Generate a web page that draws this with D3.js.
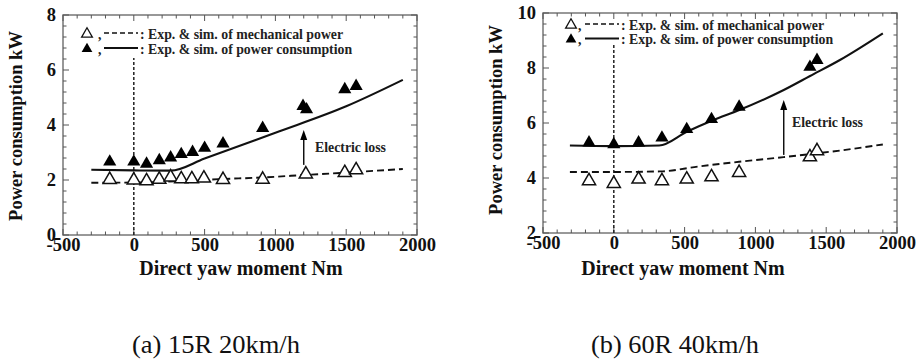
<!DOCTYPE html>
<html>
<head>
<meta charset="utf-8">
<script src="https://cdn.jsdelivr.net/npm/d3@7"></script>
<style>
  body { margin: 0; background: #fff; }
  svg text { font-family: "Liberation Serif", "Times New Roman", serif; }
</style>
</head>
<body>
<div id="chart"></div>
<script>
// tick values
var xTicks = [-500, 0, 500, 1000, 1500, 2000];
var yTicksA = [0, 2, 4, 6, 8];
var yTicksB = [2, 4, 6, 8, 10];

// (a) 15R 20km/h
var expMomentA = [-170, 0, 90, 180, 260, 335, 415, 500, 630, 910, 1195, 1220, 1490, 1570];
var expPowerA = [2.70, 2.70, 2.62, 2.75, 2.85, 2.97, 3.05, 3.20, 3.36, 3.92, 4.72, 4.60, 5.33, 5.45];
var expMechMomentA = [-170, 0, 90, 180, 260, 335, 410, 495, 630, 910, 1215, 1490, 1570];
var expMechA = [2.05, 2.03, 2.00, 2.06, 2.14, 2.07, 2.07, 2.10, 2.05, 2.06, 2.25, 2.30, 2.40];
var simMomentA = [-300, 0, 260, 500, 1000, 1500, 1900];
var simPowerA = [2.37, 2.35, 2.34, 2.78, 3.72, 4.68, 5.64];
var simMechMomentA = [-300, 0, 300, 600, 900, 1200, 1500, 1900];
var simMechA = [1.90, 1.91, 1.95, 2.03, 2.09, 2.18, 2.27, 2.40];

// (b) 60R 40km/h
var expMomentB = [-175, 0, 175, 340, 515, 690, 885, 1385, 1435];
var expPowerB = [5.32, 5.26, 5.32, 5.50, 5.81, 6.17, 6.62, 8.07, 8.32];
var expMechB = [3.93, 3.83, 3.99, 3.93, 3.99, 4.07, 4.23, 4.80, 5.02];
var simMomentB = [-310, 0, 320, 515, 700, 886, 1200, 1386, 1600, 1900];
var simPowerB = [5.18, 5.16, 5.18, 5.68, 6.10, 6.47, 7.20, 7.71, 8.30, 9.26];
var simMechMomentB = [-310, 0, 330, 600, 886, 1200, 1386, 1600, 1900];
var simMechB = [4.22, 4.22, 4.24, 4.42, 4.59, 4.76, 4.87, 5.00, 5.22];

var svg = d3.select("#chart")
  .append("svg")
  .attr("width", 921)
  .attr("height", 362);

var zip = (xs, ys) => xs.map((x, i) => ({x: x, y: ys[i]}));
var plain = d => (d < 0 ? "-" : "") + Math.abs(d);

function drawPanel(p) {
  var x = d3.scaleLinear().domain([-500, 2000]).range([p.left, p.right]);
  var y = d3.scaleLinear().domain(p.yDomain).range([p.bottom, p.top]);
  var g = svg.append("g");

  // frame
  g.append("rect")
    .attr("x", p.left).attr("y", p.top)
    .attr("width", p.right - p.left).attr("height", p.bottom - p.top)
    .attr("fill", "none").attr("stroke", "#777").attr("stroke-width", 1.5);

  // inward ticks on all four sides
  var minorX = d3.range(-500, 2001, 100);
  var minorY = d3.range(p.yDomain[0], p.yDomain[1] + 0.001, 0.4);
  minorX.forEach(function(v) {
    var len = (v % 500 === 0) ? 6 : 3.5;
    g.append("line").attr("x1", x(v)).attr("x2", x(v))
      .attr("y1", p.bottom).attr("y2", p.bottom - len).attr("stroke", "#555");
    g.append("line").attr("x1", x(v)).attr("x2", x(v))
      .attr("y1", p.top).attr("y2", p.top + len).attr("stroke", "#555");
  });
  minorY.forEach(function(v) {
    var major = Math.abs(v / 2 - Math.round(v / 2)) < 0.01;
    var len = major ? 6 : 3.5;
    g.append("line").attr("y1", y(v)).attr("y2", y(v))
      .attr("x1", p.left).attr("x2", p.left + len).attr("stroke", "#555");
    g.append("line").attr("y1", y(v)).attr("y2", y(v))
      .attr("x1", p.right).attr("x2", p.right - len).attr("stroke", "#555");
  });

  // tick labels through d3 axes, domain and tick lines hidden
  var xAxis = g.append("g")
    .attr("transform", `translate(0, ${p.bottom})`)
    .call(d3.axisBottom(x).tickValues(xTicks).tickFormat(plain).tickSize(0).tickPadding(3));
  var yAxis = g.append("g")
    .attr("transform", `translate(${p.left}, 0)`)
    .call(d3.axisLeft(y).tickValues(p.yTicks).tickFormat(plain).tickSize(0).tickPadding(7));
  [xAxis, yAxis].forEach(function(a) {
    a.select(".domain").remove();
    a.selectAll("text")
      .attr("fill", "#111")
      .attr("font-family", "Liberation Serif, serif")
      .attr("font-size", 18.5)
      .attr("font-weight", "bold");
  });

  // axis titles
  g.append("text")
    .attr("x", p.xTitleX).attr("y", 275)
    .attr("text-anchor", "middle")
    .attr("font-size", "20px").attr("font-weight", "bold").attr("fill", "#111")
    .text("Direct yaw moment Nm");
  g.append("text")
    .attr("transform", `translate(${p.yTitleX}, ${p.yTitleY}) rotate(-90)`)
    .attr("text-anchor", "middle")
    .attr("font-size", "18.5px").attr("font-weight", "bold").attr("fill", "#111")
    .text("Power consumption kW");

  // vertical dotted line at zero moment
  g.append("line")
    .attr("x1", x(0)).attr("x2", x(0))
    .attr("y1", y(p.yDomain[0])).attr("y2", y(p.zeroTop))
    .attr("stroke", "#222").attr("stroke-width", 1.5).attr("stroke-dasharray", "3,2");

  var line = d3.line().x(d => x(d.x)).y(d => y(d.y)).curve(d3.curveMonotoneX);

  g.append("path").datum(zip(p.simMechMoment, p.simMech))
    .attr("d", line).attr("fill", "none")
    .attr("stroke", "#111").attr("stroke-width", 1.9).attr("stroke-dasharray", "7,4");
  g.append("path").datum(zip(p.simMoment, p.simPower))
    .attr("d", line).attr("fill", "none")
    .attr("stroke", "#111").attr("stroke-width", 2.1);

  var tri = d3.symbol().type(d3.symbolTriangle).size(75);
  g.selectAll(".mech").data(zip(p.expMechMoment, p.expMech)).enter()
    .append("path")
    .attr("transform", d => `translate(${x(d.x)}, ${y(d.y) + 1})`)
    .attr("d", tri)
    .attr("fill", "#fff").attr("stroke", "#111").attr("stroke-width", 1.5);
  g.selectAll(".pow").data(zip(p.expMoment, p.expPower)).enter()
    .append("path")
    .attr("transform", d => `translate(${x(d.x)}, ${y(d.y) + 1})`)
    .attr("d", tri)
    .attr("fill", "#000");

  // electric loss arrow
  var ax = x(1200);
  g.append("line")
    .attr("x1", ax).attr("x2", ax)
    .attr("y1", y(p.arrow[0])).attr("y2", y(p.arrow[1]) + 8)
    .attr("stroke", "#111").attr("stroke-width", 1.5);
  g.append("path")
    .attr("d", `M${ax},${y(p.arrow[1])} L${ax - 3.5},${y(p.arrow[1]) + 10} L${ax + 3.5},${y(p.arrow[1]) + 10} Z`)
    .attr("fill", "#000");
  g.append("text")
    .attr("x", p.lossX).attr("y", p.lossY)
    .attr("font-size", "13.8px").attr("font-weight", "bold").attr("fill", "#222")
    .text("Electric loss");

  // legend
  var lg = g.append("g").attr("font-size", "13.8px").attr("font-weight", "bold").attr("fill", "#222");
  var rows = [
    {filled: false, dash: "5,3", label: ": Exp. & sim. of mechanical power"},
    {filled: true, dash: null, label: ": Exp. & sim. of power consumption"}
  ];
  rows.forEach(function(r, i) {
    var cy = p.legY + i * p.legGap;
    lg.append("path")
      .attr("transform", `translate(${p.legTri}, ${cy})`)
      .attr("d", d3.symbol().type(d3.symbolTriangle).size(50))
      .attr("fill", r.filled ? "#000" : "#fff")
      .attr("stroke", "#111").attr("stroke-width", r.filled ? 0 : 1.3);
    lg.append("text").attr("x", p.legComma).attr("y", cy + 4.5).text(",");
    lg.append("line")
      .attr("x1", p.legLine[0]).attr("x2", p.legLine[1])
      .attr("y1", cy - 1).attr("y2", cy - 1)
      .attr("stroke", "#111").attr("stroke-width", r.filled ? 2 : 1.6)
      .attr("stroke-dasharray", r.dash);
    lg.append("text").attr("x", p.legLine[1] + 2).attr("y", cy + 4.5).text(r.label);
  });

  // caption
  svg.append("text")
    .attr("x", p.capX).attr("y", 353)
    .attr("text-anchor", "middle")
    .attr("font-size", "25px").attr("fill", "#111")
    .attr("textLength", 168).attr("lengthAdjust", "spacingAndGlyphs")
    .text(p.caption);
}

drawPanel({
  left: 63, right: 417, top: 15, bottom: 235,
  yDomain: [0, 8], yTicks: yTicksA, zeroTop: 6.44,
  expMoment: expMomentA, expPower: expPowerA,
  expMechMoment: expMechMomentA, expMech: expMechA,
  simMoment: simMomentA, simPower: simPowerA,
  simMechMoment: simMechMomentA, simMech: simMechA,
  arrow: [2.55, 3.82], lossX: 315, lossY: 152,
  legY: 34, legGap: 15, legTri: 87, legComma: 98, legLine: [104, 138],
  xTitleX: 241, yTitleX: 22, yTitleY: 126,
  capX: 216, caption: "(a) 15R 20km/h"
});

drawPanel({
  left: 543, right: 897, top: 13, bottom: 233,
  yDomain: [2, 10], yTicks: yTicksB, zeroTop: 8.9,
  expMoment: expMomentB, expPower: expPowerB,
  expMechMoment: expMomentB, expMech: expMechB,
  simMoment: simMomentB, simPower: simPowerB,
  simMechMoment: simMechMomentB, simMech: simMechB,
  arrow: [4.84, 6.84], lossX: 792, lossY: 127,
  legY: 25, legGap: 14.5, legTri: 571, legComma: 578, legLine: [585, 619],
  xTitleX: 683, yTitleX: 502, yTitleY: 120,
  capX: 675, caption: "(b) 60R 40km/h"
});
</script>
</body>
</html>
